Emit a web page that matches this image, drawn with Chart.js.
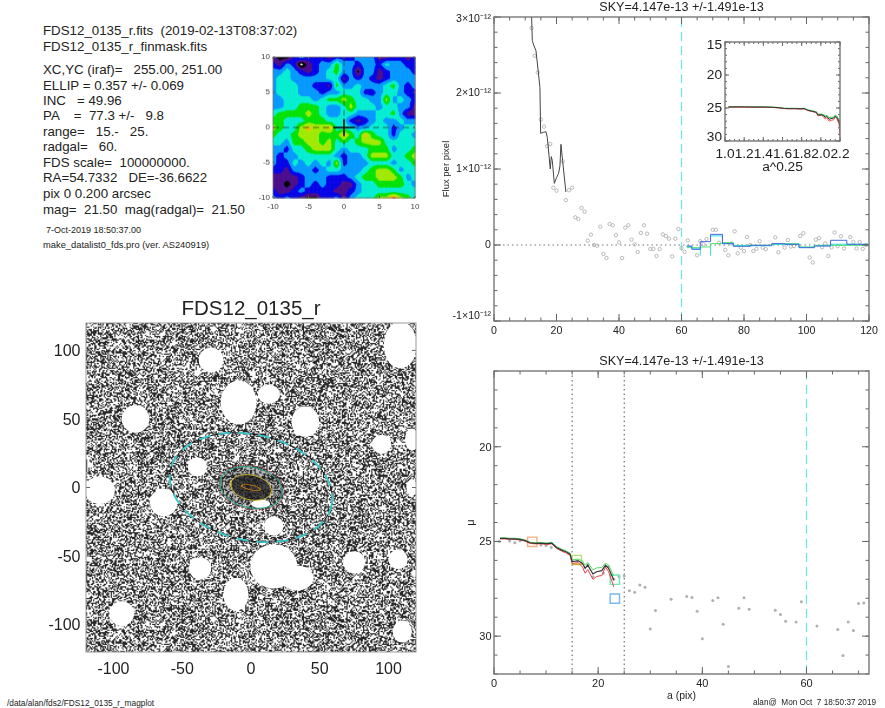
<!DOCTYPE html>
<html>
<head>
<meta charset="utf-8">
<script src="https://cdn.jsdelivr.net/npm/chart.js@4"></script>
<style>
html, body { margin: 0; padding: 0; background: #fff; width: 885px; height: 708px; overflow: hidden; }
body { filter: blur(0.35px); }
canvas { position: absolute; }
.t { position: absolute; white-space: pre; font-family: "Liberation Sans", Arial, sans-serif; color: #222; line-height: 1; }
</style>
</head>
<body>
<script>
// info block: text, x, centre y, font size
const infoLines = [
    ['FDS12_0135_r.fits  (2019-02-13T08:37:02)', 43, 30.7, 13.3],
    ['FDS12_0135_r_finmask.fits', 43, 46.7, 13.3],
    ['XC,YC (iraf)=   255.00, 251.00', 43, 70, 13.3],
    ['ELLIP = 0.357 +/- 0.069', 43, 85.3, 13.3],
    ['INC   = 49.96', 43, 100.7, 13.3],
    ['PA    =  77.3 +/-   9.8', 43, 116, 13.3],
    ['range=   15.-   25.', 43, 131.7, 13.3],
    ['radgal=   60.', 43, 147, 13.3],
    ['FDS scale=  100000000.', 43, 162.7, 13.3],
    ['RA=54.7332   DE=-36.6622', 43, 178, 13.3],
    ['pix 0 0.200 arcsec', 43, 193.7, 13.3],
    ['mag=  21.50  mag(radgal)=  21.50', 43, 209.3, 13.3],
    ['7-Oct-2019 18:50:37.00', 46, 230.7, 9],
    ['make_datalist0_fds.pro (ver. AS240919)', 43, 246, 9.35],
    ['/data/alan/fds2/FDS12_0135_r_magplot', 7, 703, 8.3],
    ['alan@  Mon Oct  7 18:50:37 2019', 753, 703, 8.2]
];
const skyTitle = 'SKY=4.147e-13 +/-1.491e-13';
const imageTitle = 'FDS12_0135_r';

// residual map levels, rows y=10..-10, columns x=-10..10
const mapLevels = [
    [1,0,0,2,3,2,2,2,1,2,2,2,3,3,3,1,1,2,2,1,2],
    [2,1,3,2,-1,1,2,3,3,5,3,3,2,3,3,2,4,3,3,2,2],
    [3,3,4,3,2,1,2,3,4,5,3,3,0,3,3,1,2,3,3,3,2],
    [3,4,4,3,3,3,3,3,4,4,1,3,2,3,2,1,2,3,3,3,3],
    [3,4,4,4,3,3,2,2,1,5,3,3,4,3,3,3,4,5,3,2,3],
    [3,4,4,4,3,3,3,2,3,3,4,4,4,2,2,3,4,4,3,2,2],
    [3,3,4,4,4,4,3,4,5,5,6,5,4,4,3,3,6,3,4,3,2],
    [3,3,4,4,5,5,5,4,3,3,4,6,4,4,4,3,4,4,3,3,1],
    [4,5,5,5,5,6,5,4,3,3,4,4,3,3,3,4,4,5,3,1,1],
    [5,5,4,4,4,5,5,5,4,4,4,2,1,2,3,4,3,3,4,3,3],
    [6,5,4,4,6,7,6,6,7,4,4,4,3,3,4,4,4,2,3,4,4],
    [5,4,4,5,6,6,6,5,5,5,7,5,4,7,5,4,4,2,4,4,3],
    [4,4,3,5,5,6,6,5,6,4,5,4,5,6,6,6,4,4,4,4,4],
    [3,3,2,4,4,5,6,6,6,4,3,4,4,4,5,5,5,3,4,4,5],
    [3,2,3,3,4,4,4,4,4,3,2,3,3,4,6,6,6,4,4,5,6],
    [3,2,2,4,3,4,3,4,3,6,2,3,3,3,4,4,4,3,4,4,5],
    [2,2,1,3,3,3,2,3,4,4,3,3,3,4,5,6,6,5,3,4,4],
    [1,1,1,1,2,3,3,3,2,2,2,3,4,5,5,6,6,6,5,3,4],
    [1,1,0,1,2,3,2,3,2,2,1,1,3,4,4,5,5,5,5,4,3],
    [2,1,1,2,3,2,2,2,2,1,1,2,3,4,4,4,4,4,4,4,4],
    [3,2,3,2,1,0,0,2,2,3,1,3,4,4,4,6,6,8,6,5,4]
];
const mapColors = ['#000000', '#4a0d8c', '#0000e6', '#0098ff', '#00ecd0', '#00e000', '#a0e800', '#f0c000', '#f01000'];

// flux per pixel, in units of 1e-12
const fluxPointA = [12,13,14,15,16,17,18,19,20,22,23,24,25,26,27,28,29,30,31,32,33,34,35,36,37,38,39,40,41,42,43,44,45,46,47,48,49,50,51,52,53,54,55,56,57,58,59,60,61,62,65,66,67,68,70,71,72,74,75,76,77,78,79,80,81,82,83,84,85,86,87,90,91,93,94,95,96,98,99,101,102,103,104,105,106,107,108,109,110,111,112,114,115,116,117,118,119];
const fluxPoints = [2.855,2.49,2.27,1.65,1.557,1.3,1.33,0.754,0.715,1.1,0.59,0.72,0.754,0.364,0.342,0.487,0.439,0.057,0.136,0,-0.01,0.241,-0.118,-0.171,0.276,0.259,0.13,0.035,-0.171,0.228,0.259,0.07,0.009,-0.092,0.158,0.259,0.149,-0.053,-0.053,-0.145,-0.053,0.14,0.118,0.083,-0.149,0.083,0.21,-0.04,-0.09,0.06,-0.135,0.05,0.01,0.08,0.2,0.2,0.03,-0.065,-0.135,0.02,0.18,-0.11,-0.035,-0.08,0.105,0,-0.08,-0.05,0.05,-0.035,-0.055,0.1,-0.095,-0.035,0.065,-0.02,-0.015,0.12,0.155,-0.165,-0.23,0.07,0.09,-0.03,0.02,-0.145,-0.03,0.165,-0.015,0.115,-0.045,0.105,0.04,-0.045,0.04,-0.05,0];
const fluxCurveA = [12.0,12.26,12.58,13.43,14.07,14.7,14.92,15.77,16.63,17.05,18.0,18.33,18.65,19.3,20.04,20.67,21.1,21.42,21.95,23.0];
const fluxCurve = [3.05,2.69,2.645,2.556,2.316,2.07,1.47,1.482,1.491,1.415,1.0,1.163,1.11,0.811,0.89,0.943,1.04,1.325,1.11,0.697];
const skyEdges = [61.65,63.3,66,69.3,73.1,76.6,81.9,88.9,93.1,97.6,102.5,107.7,112.9,119.8];
const skyBlue = [-0.013,-0.057,0.044,0.14,0.018,-0.017,-0.004,0.018,0.009,-0.035,-0.013,0.062,0.009,0.009];
const skyGreen = [-0.035,-0.035,-0.026,0.018,0.031,-0.004,-0.004,0.009,0.018,-0.026,-0.004,-0.004,-0.004,-0.004];
const skyCyanA = [61.65,63.3,66,null,66,66,null,69.3,69.3,null,69.3,73.1,76.6,81.9,88.9,93.1,97.6,102.5,107.7,112.9,119.8];
const skyCyan = [-0.02,-0.05,-0.05,null,-0.02,-0.14,null,-0.14,-0.02,null,0.12,0.02,-0.01,-0.01,0.01,0.01,-0.03,-0.01,0.01,0.01,0.005];

// surface brightness profile
const muPointA = [1,3,4,5,9,10,11,16,18,19,21,22,23,24,25,26,27,28,29,30,31,34,37,38,39,40,42,43,44,45,47,48,49,54,55,56,58,59,62,66,67,68,69,70,71];
const muPoints = [25,24.98,25.07,24.96,25.19,25.21,25.32,26.02,26.23,26.86,26.68,26.33,27,26.86,26.82,27.6,27.68,27.3,27.42,29.63,28.65,28.05,27.91,27.96,28.68,30.14,28.12,27.98,29.37,31.61,28.53,27.98,28.58,28.63,28.86,29.21,29.25,28.19,29.47,29.65,31.02,29.25,29.7,28.28,28.25];
const muCurveA = [1.15,2.1,3,4,5,6,6.9,7.9,8.8,10.1,11.1,12,13,13.9,14.6,15,16.2,17,17.5,18,19,19.7,20.7,21.4,22,23];
const muCurve = [24.84,24.84,24.86,24.86,24.89,24.96,25.07,25.1,25.09,25.12,25.09,25.32,25.46,25.56,25.67,26.07,26.02,26.16,26.42,26.25,26.72,26.6,26.54,26.25,26.42,27.03];
const muLow = [24.87,24.87,24.89,24.89,24.92,24.99,25.1,25.13,25.12,25.16,25.13,25.37,25.51,25.62,25.73,26.16,26.12,26.36,26.68,26.48,27,26.85,26.8,26.35,26.6,27.4];
const muHigh = [24.81,24.81,24.83,24.83,24.86,24.93,25.04,25.07,25.06,25.08,25.05,25.27,25.41,25.5,25.61,25.98,25.93,26.04,26.25,26.12,26.5,26.4,26.38,26.14,26.25,26.82];
const muStepA = [15,17];
const muStep = [26.2,26.2];
const squareA = [7.35,15.9,23.2,23.2];
const squareMu = [25.02,25.98,27.02,28.02];
const squareColors = ['#f4b080','#b8e070','#70e8b8','#78b8f0'];
const rangeMarks = [15,25];
const radGal = 60;

// inset ends a bit past the main curve
const insetEndX = 2.2;
const insetEndMu = 27.9;
const insetEndLow = 29.3;
const insetEndHigh = 27.5;

// mask image: object holes x, y, rx, ry (image pixels)
const maskHoles = [
    [-29,93,9,9],[-9,62,13,16],[13,68,8,7],[39.5,48,10,11],[-84,50,10,10],[108.6,104,12,17],
    [95,31.5,7,7],[117,35,5,8],[117,0,4,6],[-110,-2,11,10],[-63.5,-11,10,10],[-39,15,7,7],
    [16.5,-28,7,7],[16.5,-57.5,17,16],[33.5,-66,12,9],[-37,-59,8,8],[-11,-78,9,12],[-94,-92,9,9],
    [75,-54.5,8,8],[107,-52.5,7,7],[110,-105,7,8],[7,-12,7,3]
];
// grain of the mask picture, copied as two small stencils
const grainCells = 280;
const grainA = [
    '##..#.##...#..##.',
    '.#..###...##...#.',
    '...#.#..#.#..##..',
    '#.##...##...###.#',
    '##...#.#..#....##',
    '..#.##...###.#...',
    '.##.#..#..#..##..',
    '#...#.###...#.#.#',
    '##.....#..##...##',
    '..###.#..#.#.#...',
    '.#.#...##...###..',
    '##..##..#.#...#.#',
    '#...#.#...##.#..#'
];
const grainB = [
    '.#.##...#.###..#...##.#',
    '##..#.#.....#.##.#...#.',
    '...###..#.#...#..##.#..',
    '.#.#..##..##.#...#..##.',
    '##...#..#...#..#.#.#..#',
    '#..#.##..#.#.###...#...',
    '..##..#.##....#..##..##',
    '.#...#....#.#...#.##.#.',
    '#.#.###.#...##.#....#..',
    '##.....#.##.#..##.#...#',
    '..#.#.#.#....#...###.#.',
    '.##.#...###.#.#.#...#..',
    '#...##.#...#..##..#.#.#',
    '..#...#..#.##...#.#..##',
    '.###.#.##....#.#...#...',
    '#...#....#.#.##.##..#.#',
    '.#.#..##.#.#...#..#.##.',
    '##..#.#....##.#..#....#',
    '...##..#.#...#.###.#.#.'
];
const ellipseA = [25,23,15,7];
const ellipseE = [0.36,0.36,0.4,0.75];
const ellipseColors = ['#a02c30','#1fa888','#d8c030','#d08018'];
const ellipseDash = [[1.5,2],[],[],[]];
const galaxyA = 60;
const galaxyE = 0.357;
const galaxyPA = 77.3;

const frameColor = '#777';
const tickColor = '#666';
const textColor = '#222';

function zip(xs, ys) {
    return xs.map((x, i) => ({ x: x, y: ys[i] }));
}

function range(a, b, step) {
    const out = [];
    for (let i = 0; a + i * step <= b + step / 100; i++) out.push(+(a + i * step).toFixed(4));
    return out;
}

function ellipsePoints(a, e, pa) {
    const tilt = (90 - pa) * Math.PI / 180;
    const pts = [];
    for (let deg = 0; deg <= 360; deg += 4) {
        const t = deg * Math.PI / 180;
        const u = a * Math.cos(t), v = a * (1 - e) * Math.sin(t);
        pts.push({ x: u * Math.cos(tilt) + v * Math.sin(tilt), y: -u * Math.sin(tilt) + v * Math.cos(tilt) });
    }
    return pts;
}

// IDL style box: inward ticks on all four sides
const idlFrame = {
    id: 'idlFrame',
    afterDatasetsDraw(chart, args, opts) {
        const c = chart.ctx, a = chart.chartArea, sx = chart.scales.x, sy = chart.scales.y;
        c.save();
        c.strokeStyle = opts.tickColor || tickColor;
        c.lineWidth = opts.tickWidth || 1;
        c.beginPath();
        const xTick = (list, len) => list.forEach(v => {
            const p = sx.getPixelForValue(v);
            c.moveTo(p, a.bottom); c.lineTo(p, a.bottom - len);
            c.moveTo(p, a.top); c.lineTo(p, a.top + len);
        });
        const yTick = (list, len) => list.forEach(v => {
            const p = sy.getPixelForValue(v);
            c.moveTo(a.left, p); c.lineTo(a.left + len, p);
            c.moveTo(a.right, p); c.lineTo(a.right - len, p);
        });
        xTick(opts.xMajor || [], opts.major || 7);
        xTick(opts.xMinor || [], opts.minor || 3.5);
        yTick(opts.yMajor || [], opts.major || 7);
        yTick(opts.yMinor || [], opts.minor || 3.5);
        c.stroke();
        c.strokeStyle = opts.frameColor || frameColor;
        c.lineWidth = opts.frameWidth || 1.4;
        c.strokeRect(a.left, a.top, a.right - a.left, a.bottom - a.top);
        c.restore();
    }
};

// filled contours of the residual map, sampled through the axes
const contourFill = {
    id: 'contourFill',
    beforeDatasetsDraw(chart) {
        const c = chart.ctx, sx = chart.scales.x, sy = chart.scales.y;
        const step = 0.08;
        c.save();
        for (let x = -10; x < 10; x += step) {
            for (let y = -10; y < 10; y += step) {
                const xc = x + step / 2, yc = y + step / 2;
                const cx = Math.max(0, Math.min(19, Math.floor(xc + 10))), fx = xc + 10 - cx;
                const ry = Math.max(0, Math.min(19, Math.floor(10 - yc))), fy = 10 - yc - ry;
                const v = (mapLevels[ry][cx] * (1 - fx) + mapLevels[ry][cx + 1] * fx) * (1 - fy) +
                          (mapLevels[ry + 1][cx] * (1 - fx) + mapLevels[ry + 1][cx + 1] * fx) * fy;
                const lev = Math.round(v);
                c.fillStyle = lev < 0 ? '#fff' : mapColors[lev];
                const x0 = sx.getPixelForValue(x), y0 = sy.getPixelForValue(Math.min(10, y + step));
                c.fillRect(x0, y0, sx.getPixelForValue(Math.min(10, x + step)) - x0 + 0.4, sy.getPixelForValue(y) - y0 + 0.4);
            }
        }
        c.restore();
    }
};

function grainCanvas() {
    const off = document.createElement('canvas');
    off.width = grainCells; off.height = grainCells;
    const g = off.getContext('2d');
    const img = g.createImageData(grainCells, grainCells);
    for (let r = 0; r < grainCells; r++) {
        const a = grainA[r % grainA.length], b = grainB[r % grainB.length];
        for (let q = 0; q < grainCells; q++) {
            const on = (a[q % a.length] === '#') !== (b[q % b.length] === '#');
            const i = (r * grainCells + q) * 4;
            const val = on ? 40 : 255;
            img.data[i] = img.data[i + 1] = img.data[i + 2] = val;
            img.data[i + 3] = 255;
        }
    }
    g.putImageData(img, 0, 0);
    return off;
}

// mask picture behind the ellipses
const maskPicture = {
    id: 'maskPicture',
    beforeDatasetsDraw(chart) {
        const c = chart.ctx, a = chart.chartArea, sx = chart.scales.x, sy = chart.scales.y;
        const ux = sx.getPixelForValue(1) - sx.getPixelForValue(0);
        const tilt = (90 - galaxyPA) * Math.PI / 180;
        c.save();
        c.beginPath();
        c.rect(a.left, a.top, a.right - a.left, a.bottom - a.top);
        c.clip();
        c.imageSmoothingEnabled = true;
        c.drawImage(grainCanvas(), a.left, a.top, a.right - a.left, a.bottom - a.top);
        const x0 = sx.getPixelForValue(0), y0 = sy.getPixelForValue(0);
        c.fillStyle = 'rgba(30,30,30,0.3)';
        c.beginPath();
        c.ellipse(x0, y0, 25 * ux, 16 * ux, tilt, 0, Math.PI * 2);
        c.fill();
        c.fillStyle = 'rgba(25,25,25,0.72)';
        c.beginPath();
        c.ellipse(x0, y0, 15 * ux, 9.5 * ux, tilt, 0, Math.PI * 2);
        c.fill();
        c.fillStyle = '#fff';
        maskHoles.forEach(h => {
            c.beginPath();
            c.ellipse(sx.getPixelForValue(h[0]), sy.getPixelForValue(h[1]), h[2] * ux, h[3] * ux, 0, 0, Math.PI * 2);
            c.fill();
        });
        c.restore();
    }
};

function line(data, color, width, dash, extra) {
    return Object.assign({
        data: data, showLine: true, borderColor: color, borderWidth: width,
        borderDash: dash || [], pointRadius: 0, tension: 0, fill: false
    }, extra || {});
}

function makeChart(area, leftW, bottomH, opts) {
    const padTop = 6, padRight = 14;
    const cv = document.createElement('canvas');
    const w = area.r - area.l + leftW + padRight, h = area.b - area.t + padTop + bottomH;
    cv.width = w; cv.height = h;
    cv.style.left = (area.l - leftW) + 'px';
    cv.style.top = (area.t - padTop) + 'px';
    cv.style.width = w + 'px';
    cv.style.height = h + 'px';
    document.body.appendChild(cv);

    const font = { family: '"Liberation Sans", Arial, sans-serif', size: opts.fontSize };
    const scale = (s, isY) => ({
        type: 'linear', min: s.min, max: s.max, reverse: !!s.reverse,
        grid: { display: false, drawTicks: false }, border: { display: false },
        afterBuildTicks: sc => { sc.ticks = s.ticks.map(v => ({ value: v })); },
        afterFit: sc => {
            if (isY) sc.width = leftW; else sc.height = bottomH;
            sc.paddingTop = sc.paddingBottom = sc.paddingLeft = sc.paddingRight = 0;
        },
        ticks: {
            autoSkip: false, maxRotation: 0, minRotation: 0, color: opts.tickTextColor || textColor, font: font,
            padding: s.padding === undefined ? 6 : s.padding, labelOffset: s.labelOffset || 0,
            callback: s.labels ? (v, i) => s.labels[i] : v => String(v)
        },
        title: s.title ? {
            display: true, text: s.title, color: textColor, padding: s.titlePad || 0,
            font: { family: font.family, size: s.titleSize || opts.fontSize }
        } : { display: false }
    });

    return new Chart(cv, {
        type: 'scatter',
        data: { datasets: opts.datasets },
        plugins: opts.plugins,
        options: {
            responsive: false, animation: false, devicePixelRatio: 1,
            layout: { autoPadding: false, padding: { left: 0, top: padTop, right: padRight, bottom: 0 } },
            plugins: { legend: { display: false }, tooltip: { enabled: false }, idlFrame: opts.frame },
            scales: { x: scale(opts.x, false), y: scale(opts.y, true) }
        }
    });
}

// residual map
makeChart({ l: 273, t: 57, r: 415, b: 197.5 }, 22, 22, {
    fontSize: 8, tickTextColor: '#444',
    x: { min: -10, max: 10, ticks: [-10,-5,0,5,10], padding: 4 },
    y: { min: -10, max: 10, ticks: [-10,-5,0,5,10], padding: 3 },
    plugins: [contourFill, idlFrame],
    frame: { xMajor: [-10,-5,0,5,10], yMajor: [-10,-5,0,5,10], major: 2, frameWidth: 0.8, tickColor: '#555' },
    datasets: [
        line(zip([-1.5,1.5], [0,0]), '#101010', 1.6),
        line(zip([0,0], [-1.2,1.2]), '#101010', 1.6),
        line(zip([-10,10], [0,0]), 'rgba(40,40,40,0.7)', 1, [6,4]),
        line(zip([0,0], [-5.5,10]), 'rgba(40,40,40,0.6)', 1, [6,4])
    ]
});

// flux panel
makeChart({ l: 494, t: 17, r: 869, b: 321 }, 58, 22, {
    fontSize: 10.6,
    x: { min: 0, max: 120, ticks: [0,20,40,60,80,100,120], padding: 3.5 },
    y: {
        min: -1, max: 3, ticks: [-0.94,0,1,2,2.97], padding: 3,
        labels: ['-1×10⁻¹²', '0', '1×10⁻¹²', '2×10⁻¹²', '3×10⁻¹²'],
        title: 'Flux per pixel', titleSize: 9.5, titlePad: 5
    },
    plugins: [idlFrame],
    frame: {
        xMajor: [0,20,40,60,80,100,120], xMinor: range(0, 120, 5),
        yMajor: [-1,0,1,2,3], yMinor: range(-1, 3, 0.2)
    },
    datasets: [
        line(zip(skyEdges, skyBlue), '#4466dd', 1, [], { stepped: true }),
        line(zip(skyCyanA, skyCyan), '#30e0e0', 1, [], { stepped: true }),
        line(zip(skyEdges, skyGreen), '#50e070', 1, [], { stepped: true }),
        line(zip(fluxCurveA, fluxCurve), '#444', 1),
        { data: zip(fluxPointA, fluxPoints), pointRadius: 1.7, pointBackgroundColor: 'rgba(0,0,0,0)', pointBorderColor: '#aaa', pointBorderWidth: 0.8 },
        line(zip([radGal,radGal], [-1,3]), '#6fe4e8', 1.2, [9,5]),
        line(zip([0,120], [0,0]), '#666', 0.9, [1.5,3])
    ]
});

// inset, a^0.25
const insetX = muCurveA.map(a => Math.pow(a, 0.25)).concat([insetEndX]);
makeChart({ l: 725, t: 42, r: 840, b: 141 }, 24, 34, {
    fontSize: 13.7,
    x: { min: 1, max: 2.2, ticks: [1,1.2,1.4,1.6,1.8,2,2.2], labels: ['1.0','1.2','1.4','1.6','1.8','2.0','2.2'], padding: 5, title: 'a^0.25', titleSize: 13.7 },
    y: { min: 15, max: 30, reverse: true, ticks: [15.45,20,25.05,29.4], labels: ['15','20','25','30'], padding: 3 },
    plugins: [idlFrame],
    frame: {
        xMajor: [1,1.2,1.4,1.6,1.8,2,2.2], xMinor: range(1, 2.2, 0.05),
        yMajor: [15,20,25,30], yMinor: range(15, 30, 1), major: 4, minor: 2
    },
    datasets: [
        line(zip(insetX, muCurve.concat([insetEndMu])), '#333', 1),
        line(zip(insetX, muLow.concat([insetEndLow])), '#f05050', 1),
        line(zip(insetX, muHigh.concat([insetEndHigh])), '#40d860', 1.2)
    ]
});

// profile panel
makeChart({ l: 494, t: 371, r: 869, b: 674 }, 40, 28, {
    fontSize: 11,
    x: { min: 0, max: 72, ticks: [0,20,40,60], padding: 3.5, title: 'a (pix)', titleSize: 10.5 },
    y: { min: 16, max: 32, reverse: true, ticks: [20,25,30], padding: 2.5, labelOffset: 1, title: 'μ', titleSize: 11, titlePad: 10 },
    plugins: [idlFrame],
    frame: {
        xMajor: [0,20,40,60], xMinor: range(0, 70, 5),
        yMajor: [20,25,30], yMinor: range(16, 32, 1)
    },
    datasets: [
        line(zip(muCurveA, muCurve), '#333', 1.2),
        line(zip(muCurveA, muHigh), '#50e060', 1),
        line(zip(muCurveA, muLow), '#f04048', 1),
        line(zip(muStepA, muStep), '#d8a020', 1.2),
        {
            data: zip(squareA, squareMu), pointStyle: 'rect', pointRadius: 6.6,
            pointBackgroundColor: 'rgba(0,0,0,0)', pointBorderColor: squareColors, pointBorderWidth: 1.4
        },
        { data: zip(muPointA, muPoints), pointRadius: 1.5, pointBackgroundColor: '#b0b0b0', pointBorderWidth: 0 },
        line(zip([rangeMarks[0],rangeMarks[0]], [16,32]), '#555', 1, [1.5,3]),
        line(zip([rangeMarks[1],rangeMarks[1]], [16,32]), '#555', 1, [1.5,3]),
        line(zip([radGal,radGal], [16,32]), '#6fe4e8', 1.2, [9,5])
    ]
});

// mask image with the ellipses
const ringSets = [];
ellipseA.forEach((a, i) => {
    ringSets.push(line(ellipsePoints(a, ellipseE[i], galaxyPA), ellipseColors[i], 1, ellipseDash[i]));
});
makeChart({ l: 85.7, t: 323, r: 415.7, b: 652 }, 50, 30, {
    fontSize: 16,
    x: { min: -120, max: 120, ticks: [-100,-50,0,50,100], padding: 8 },
    y: { min: -120, max: 120, ticks: [-100,-50,0,50,100], padding: 5.5, labelOffset: 1.5 },
    plugins: [maskPicture, idlFrame],
    frame: { xMajor: [-100,-50,0,50,100], yMajor: [-100,-50,0,50,100], major: 4, frameWidth: 1, frameColor: '#999' },
    datasets: ringSets.concat([
        line(ellipsePoints(galaxyA, galaxyE, galaxyPA), '#38c8cc', 1.8, [12,8]),
        line(ellipsePoints(galaxyA, galaxyE, galaxyPA), '#111', 1)
    ])
});

function addText(txt, x, cy, size, centered) {
    const d = document.createElement('div');
    d.className = 't';
    d.textContent = txt;
    d.style.fontSize = size + 'px';
    d.style.top = (cy - size / 2) + 'px';
    if (centered) { d.style.left = x + 'px'; d.style.transform = 'translateX(-50%)'; }
    else d.style.left = x + 'px';
    document.body.appendChild(d);
}

infoLines.forEach(l => addText(l[0], l[1], l[2], l[3]));
addText(skyTitle, 681.5, 7.5, 12.6, true);
addText(skyTitle, 681.5, 361, 12.6, true);
addText(imageTitle, 251, 308, 20.5, true);
</script>
</body>
</html>
